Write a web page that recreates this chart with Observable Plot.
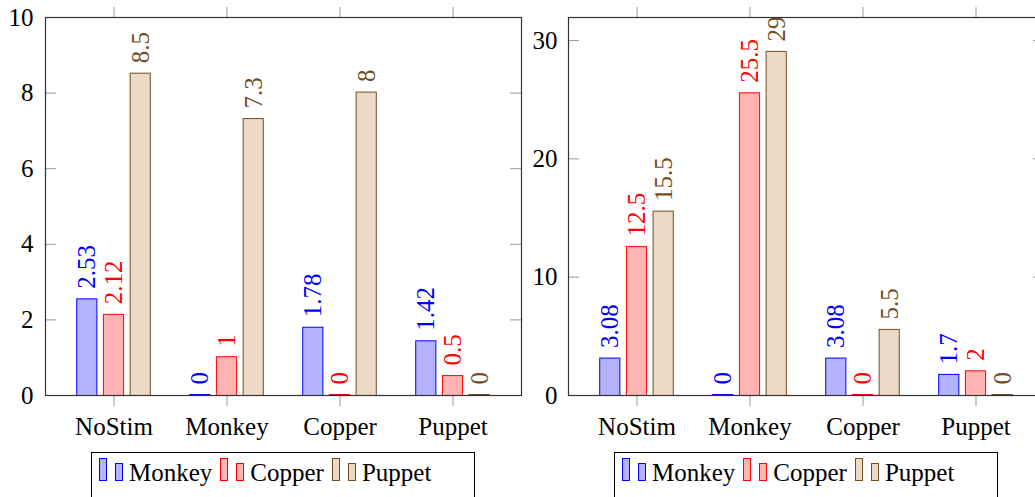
<!DOCTYPE html>
<html><head><meta charset="utf-8">
<script src="https://cdn.jsdelivr.net/npm/d3@7"></script>
<script src="https://cdn.jsdelivr.net/npm/@observablehq/plot@0.6"></script>
<style>
html,body{margin:0;padding:0;background:#fff;overflow:hidden;width:1035px;height:497px}
#wrap{display:flex;width:1035px;height:497px;overflow:hidden}
.panel{position:relative;flex:none;overflow:visible}
.legend{box-sizing:border-box;border:1px solid #000;font-size:25px;line-height:30px;padding:5px 0 12px 7px;white-space:nowrap;width:384px;background:#fff}
.ic{display:inline-block;box-sizing:border-box;width:8px;border:1px solid;vertical-align:baseline}
.ic.big{height:23px;margin-right:8px}
.ic.small{height:18px;margin-right:6px}
.lab{margin-right:8px}
</style></head><body><div id="wrap"><div class="panel" id="p1"></div><div class="panel" id="p2"></div></div>
<script>
const categories = ["NoStim", "Monkey", "Copper", "Puppet"];
const seriesNames = ["Monkey", "Copper", "Puppet"];
const leftMonkey = [2.53, 0, 1.78, 1.42];
const leftCopper = [2.12, 1, 0, 0.5];
const leftPuppet = [8.5, 7.3, 8, 0];
const rightMonkey = [3.08, 0, 3.08, 1.7];
const rightCopper = [12.5, 25.5, 0, 2];
const rightPuppet = [15.5, 29, 5.5, 0];
const leftYTicks = [0, 2, 4, 6, 8, 10];
const rightYTicks = [0, 10, 20, 30];
const leftYMax = 10;
const rightYMax = 31.95;

// pick the first installed serif face
function pickFont(cands) {
  const ctx = document.createElement("canvas").getContext("2d");
  const sample = "NoStim Monkey Copper Puppet 0123456789.";
  const w = f => { ctx.font = "25px " + f; return ctx.measureText(sample).width; };
  const mono = w("monospace"), sans = w("sans-serif");
  for (const c of cands) {
    const a = w(`"${c}", monospace`), b = w(`"${c}", sans-serif`);
    if (Math.abs(a - mono) > 0.5 || Math.abs(b - sans) > 0.5) return `"${c}", serif`;
  }
  return "serif";
}
const FONT = pickFont(["Liberation Serif", "DejaVu Serif", "Noto Serif", "Tinos", "Times New Roman", "FreeSerif", "Nimbus Roman", "Latin Modern Roman", "CMU Serif"]);

const styles = [
  {fill: "#b3b3ff", stroke: "#0000ff", text: "#0000ff"},
  {fill: "#ffb3b3", stroke: "#ff0000", text: "#ff0000"},
  {fill: "#ecd9c6", stroke: "#734d26", text: "#734d26"}
];

function panel(el, seriesValues, yTicks, yMax, o) {
  const innerW = o.width - o.ml - o.mr;
  const step = innerW / 4.2;
  const barW = 20.5;
  const inset = (step - barW) / 2;
  const shift = 26.7;
  const marks = [];
  seriesValues.forEach((vals, s) => {
    const rows = categories.map((c, i) => ({cat: c, value: vals[i], series: seriesNames[s]}));
    const dx = (s - 1) * shift;
    marks.push(Plot.barY(rows, {x: "cat", y: "value", fill: styles[s].fill, stroke: styles[s].stroke, strokeWidth: 1, insetLeft: inset, insetRight: inset, insetTop: -0.5, insetBottom: -0.5, dx}));
    marks.push(Plot.text(rows, {x: "cat", y: "value", text: d => String(d.value), rotate: -90, textAnchor: "start", dx, dy: -11, fill: styles[s].text, fontFamily: FONT}));
  });
  marks.push(Plot.tickY(yTicks, {y: d => d, stroke: "#999", insetRight: innerW - 11}));
  marks.push(Plot.tickY(yTicks, {y: d => d, stroke: "#999", insetLeft: innerW - 11}));
  marks.push(Plot.axisY({ticks: yTicks, tickSize: 0, tickPadding: o.tp, label: null, fill: "#000", fontFamily: FONT}));
  marks.push(Plot.axisX({anchor: "bottom", tickSize: 11, tickPadding: 11, label: null, stroke: "#999", fill: "#000", fontFamily: FONT}));
  marks.push(Plot.axisX({anchor: "top", tickSize: 11, tickFormat: () => "", label: null, stroke: "#999"}));
  marks.push(Plot.frame({stroke: "#333", strokeWidth: 1.2}));
  const chart = Plot.plot({
    width: o.width, height: 452,
    marginLeft: o.ml, marginRight: o.mr, marginTop: 17, marginBottom: 57,
    style: {fontFamily: FONT, fontSize: "25px", background: "#fff", overflow: "visible"},
    x: {type: "band", domain: categories, paddingInner: 0, paddingOuter: 0.1},
    y: {domain: [0, yMax]},
    marks
  });
  el.appendChild(chart);
  const lg = document.createElement("div");
  lg.className = "legend";
  lg.style.fontFamily = FONT;
  lg.style.marginLeft = o.lgLeft + "px";
  seriesNames.forEach((n, s) => {
    for (const cls of ["big", "small"]) {
      const ic = document.createElement("span");
      ic.className = "ic " + cls;
      ic.style.background = styles[s].fill;
      ic.style.borderColor = styles[s].stroke;
      lg.appendChild(ic);
    }
    const t = document.createElement("span");
    t.className = "lab";
    t.textContent = n;
    lg.appendChild(t);
  });
  el.appendChild(lg);
}

const p1 = document.getElementById("p1");
p1.style.width = "545px";
const p2 = document.getElementById("p2");
p2.style.width = "510px";
panel(p1, [leftMonkey, leftCopper, leftPuppet], leftYTicks, leftYMax, {width: 545, ml: 45, mr: 24, tp: 12, lgLeft: 91});
panel(p2, [rightMonkey, rightCopper, rightPuppet], rightYTicks, rightYMax, {width: 510, ml: 23, mr: 11, tp: 11, lgLeft: 69});
</script></body></html>
